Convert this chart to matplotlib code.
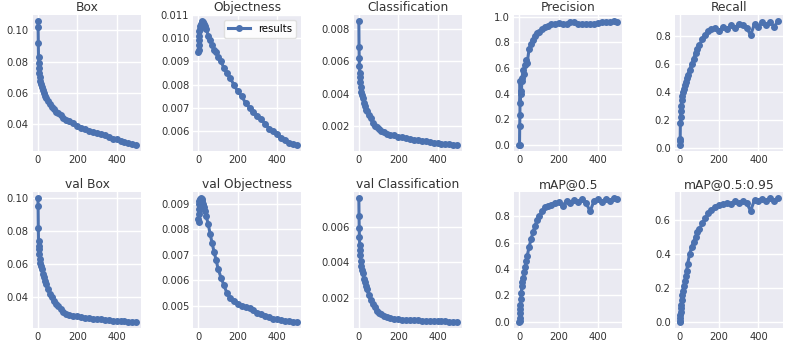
import matplotlib
matplotlib.use("Agg")
import matplotlib.pyplot as plt

epochs = [0, 1, 2, 3, 4, 5, 7, 10, 13, 16, 20, 25, 30, 35, 40, 50, 60, 70, 80, 90, 100,
          115, 130, 145, 160, 180, 200, 220, 240, 260, 280, 300, 320, 340, 360, 380,
          400, 420, 440, 460, 480, 499]

box = [0.106, 0.102, 0.092, 0.083, 0.079, 0.076, 0.073, 0.070, 0.068, 0.066, 0.064, 0.062,
       0.060, 0.058, 0.057, 0.055, 0.053, 0.051, 0.050, 0.048, 0.047, 0.046, 0.044, 0.043,
       0.042, 0.041, 0.039, 0.038, 0.037, 0.036, 0.0355, 0.0345, 0.034, 0.033, 0.032, 0.031,
       0.0305, 0.0295, 0.0285, 0.028, 0.0275, 0.027]
objectness = [0.0094, 0.0095, 0.0097, 0.0099, 0.0101, 0.0103, 0.0104, 0.0105, 0.0106, 0.0107,
              0.01072, 0.0107, 0.0106, 0.0105, 0.0104, 0.0101, 0.0099, 0.0097, 0.0095, 0.0094,
              0.0092, 0.0090, 0.0087, 0.0085, 0.0083, 0.0080, 0.0077, 0.0075, 0.0072, 0.0070,
              0.0068, 0.00665, 0.0065, 0.0063, 0.0061, 0.0060, 0.00585, 0.0057, 0.0056, 0.0055,
              0.00545, 0.0054]
classification = [0.0085, 0.0069, 0.0062, 0.0057, 0.0053, 0.0050, 0.0047, 0.0044, 0.0041, 0.0039,
                  0.0037, 0.0034, 0.0032, 0.0030, 0.0029, 0.0027, 0.0025, 0.0022, 0.0020, 0.0019,
                  0.0018, 0.0017, 0.0016, 0.0015, 0.00145, 0.0014, 0.00133, 0.00128, 0.00123,
                  0.0012, 0.00115, 0.00112, 0.00108, 0.00104, 0.0010, 0.00096, 0.00093, 0.0009,
                  0.00087, 0.00085, 0.00083, 0.00082]
precision = [0.0, 0.0, 0.15, 0.23, 0.5, 0.33, 0.42, 0.40, 0.50, 0.52, 0.58, 0.55, 0.62, 0.66,
             0.64, 0.75, 0.79, 0.82, 0.85, 0.87, 0.88, 0.90, 0.92, 0.93, 0.94, 0.945, 0.95,
             0.945, 0.94, 0.955, 0.96, 0.945, 0.94, 0.945, 0.94, 0.945, 0.95, 0.955, 0.96,
             0.955, 0.965, 0.96]
recall = [0.02, 0.06, 0.05, 0.18, 0.22, 0.26, 0.30, 0.34, 0.37, 0.40, 0.42, 0.45, 0.47, 0.50,
          0.52, 0.56, 0.60, 0.64, 0.68, 0.71, 0.74, 0.78, 0.81, 0.84, 0.85, 0.86, 0.84, 0.87,
          0.85, 0.88, 0.86, 0.89, 0.88, 0.86, 0.81, 0.89, 0.87, 0.90, 0.88, 0.90, 0.87, 0.91]
val_box = [0.100, 0.095, 0.082, 0.074, 0.071, 0.069, 0.066, 0.063, 0.061, 0.059, 0.057, 0.054,
           0.052, 0.050, 0.048, 0.045, 0.042, 0.040, 0.038, 0.036, 0.035, 0.033, 0.031, 0.030,
           0.0295, 0.029, 0.0285, 0.028, 0.0278, 0.0275, 0.0272, 0.027, 0.0267, 0.0264, 0.026,
           0.0258, 0.0256, 0.0255, 0.0254, 0.0253, 0.0253, 0.0252]
val_objectness = [0.0084, 0.0083, 0.0086, 0.0088, 0.0090, 0.0091, 0.00915, 0.0092, 0.00922,
                  0.0092, 0.0091, 0.0090, 0.00885, 0.0087, 0.0085, 0.0082, 0.0078, 0.00745,
                  0.0071, 0.0068, 0.00645, 0.0061, 0.0058, 0.0055, 0.0053, 0.0052, 0.00507,
                  0.0050, 0.00495, 0.0049, 0.00482, 0.00473, 0.00466, 0.0046, 0.00454, 0.0045,
                  0.00447, 0.00444, 0.00441, 0.0044, 0.00438, 0.00437]
val_classification = [0.0076, 0.0066, 0.0059, 0.0054, 0.0050, 0.0047, 0.0044, 0.0041, 0.0038,
                      0.0036, 0.0034, 0.0031, 0.0029, 0.0027, 0.0025, 0.0022, 0.0019, 0.0017,
                      0.0015, 0.0013, 0.0012, 0.0011, 0.0010, 0.00095, 0.0009, 0.00086, 0.00083,
                      0.0008, 0.00079, 0.00078, 0.00077, 0.00076, 0.00075, 0.00074, 0.00073,
                      0.00072, 0.00071, 0.0007, 0.0007, 0.00069, 0.00068, 0.00068]
map50 = [0.0, 0.01, 0.03, 0.07, 0.10, 0.13, 0.17, 0.22, 0.27, 0.30, 0.33, 0.38, 0.42, 0.46,
         0.50, 0.57, 0.63, 0.68, 0.73, 0.77, 0.80, 0.84, 0.87, 0.88, 0.89, 0.90, 0.91, 0.88,
         0.92, 0.90, 0.925, 0.91, 0.93, 0.90, 0.84, 0.92, 0.93, 0.91, 0.935, 0.92, 0.94, 0.93]
map50_95 = [0.0, 0.005, 0.02, 0.04, 0.06, 0.08, 0.10, 0.13, 0.16, 0.18, 0.21, 0.24, 0.27, 0.30,
            0.34, 0.40, 0.44, 0.47, 0.50, 0.53, 0.55, 0.58, 0.61, 0.64, 0.66, 0.68, 0.69, 0.695,
            0.70, 0.695, 0.71, 0.70, 0.715, 0.70, 0.655, 0.72, 0.715, 0.725, 0.71, 0.73, 0.715,
            0.73]

titles = ["Box", "Objectness", "Classification", "Precision", "Recall",
          "val Box", "val Objectness", "val Classification", "mAP@0.5", "mAP@0.5:0.95"]
series = [box, objectness, classification, precision, recall,
          val_box, val_objectness, val_classification, map50, map50_95]
yticks = [[0.04, 0.06, 0.08, 0.10],
          [0.006, 0.007, 0.008, 0.009, 0.010, 0.011],
          [0.002, 0.004, 0.006, 0.008],
          [0.0, 0.2, 0.4, 0.6, 0.8, 1.0],
          [0.0, 0.2, 0.4, 0.6, 0.8],
          [0.04, 0.06, 0.08, 0.10],
          [0.005, 0.006, 0.007, 0.008, 0.009],
          [0.002, 0.004, 0.006],
          [0.0, 0.2, 0.4, 0.6, 0.8],
          [0.0, 0.2, 0.4, 0.6]]
xticks = [0, 200, 400]

color = "#4C72B0"
fig, axes = plt.subplots(2, 5, figsize=(7.86, 3.46), dpi=100)
fig.subplots_adjust(left=0.042, right=0.996, bottom=0.052, top=0.957, wspace=0.486, hspace=0.30)

for i, ax in enumerate(axes.flat):
    ax.set_facecolor("#EAEAF2")
    for s in ax.spines.values():
        s.set_visible(False)
    ax.grid(True, color="white", linewidth=1.0)
    ax.set_axisbelow(True)
    ax.plot(epochs, series[i], marker="o", markersize=4, linewidth=2.2, color=color,
            label="results")
    ax.set_title(titles[i], fontsize=8.8, color="#333333", pad=3)
    ax.set_xticks(xticks)
    ax.set_yticks(yticks[i])
    ax.tick_params(length=0, labelsize=7.2, colors="#333333", pad=3)
    if i == 1:
        ax.legend(loc="upper right", fontsize=7.3, frameon=True, facecolor="white",
                  edgecolor="#dddddd", framealpha=0.9, handlelength=2.2, borderpad=0.4)

fig.savefig("out.png", dpi=100, facecolor="white")
